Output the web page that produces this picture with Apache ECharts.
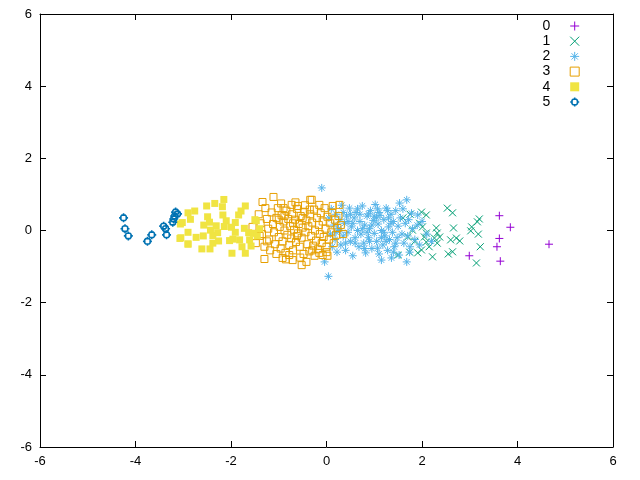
<!DOCTYPE html>
<html><head><meta charset="utf-8">
<script src="https://cdn.jsdelivr.net/npm/echarts@6/dist/echarts.min.js"></script>
<style>html,body{margin:0;padding:0;background:#fff}#c{width:640px;height:480px}</style>
</head><body><div id="c"></div>
<script>
var seriesNames = ['0','1','2','3','4','5'];
var xTicks = [-6,-4,-2,0,2,4,6];
var yTicks = [-6,-4,-2,0,2,4,6];

var s0 = [[3.62,0.41],[3.85,0.09],[3.62,-0.22],[3.57,-0.45],[2.99,-0.70],[3.64,-0.85],[4.66,-0.38]];

var s1 = [[1.99,0.51],[2.09,0.43],[2.53,0.62],[2.64,0.49],[3.20,0.32],[3.16,0.24],[3.04,0.10],[3.02,-0.01],
[3.18,-0.10],[3.22,-0.45],[3.14,-0.90],[2.66,0.07],[2.60,-0.26],[2.64,-0.59],[2.55,-0.65],[2.72,-0.21],
[2.79,-0.29],[2.22,-0.73],[2.32,-0.07],[2.26,-0.21],[2.37,-0.18],[2.09,-0.32],[2.09,-0.07],[2.01,0.10],
[1.91,-0.62],[1.99,-0.54],[1.74,-0.60],[1.80,0.01],[1.70,-0.18],[1.49,-0.68],[2.30,0.07],[2.32,-0.35],
[2.05,-0.18],[1.85,-0.30],[1.95,0.20],[2.15,-0.45],[1.60,0.35],[1.75,0.45]];

var s2 = [[-0.10,1.18],[-0.04,-0.87],[0.04,-1.27],[1.68,0.85],[1.53,0.76],[1.78,0.48],[1.91,0.43],[1.68,-0.87],
[1.74,-0.60],[1.36,-0.76],[1.15,-0.82],[1.07,-0.49],[0.88,0.46],[1.07,0.60],[1.28,0.55],
[0.05,0.35],[0.08,-0.10],[0.10,0.60],[0.12,-0.45],[0.15,0.15],[0.18,-0.25],[0.20,0.45],[0.22,-0.60],
[0.25,0.05],[0.28,0.30],[0.30,-0.40],[0.32,0.70],[0.35,-0.15],[0.38,0.20],[0.40,-0.55],[0.42,0.40],
[0.45,-0.05],[0.48,0.62],[0.50,-0.30],[0.52,0.10],[0.55,-0.70],[0.58,0.35],[0.60,-0.20],[0.62,0.50],
[0.65,0.00],[0.68,-0.45],[0.70,0.25],[0.72,-0.10],[0.75,0.68],[0.78,-0.35],[0.80,0.15],[0.82,-0.62],
[0.85,0.40],[0.88,-0.20],[0.90,0.05],[0.92,0.55],[0.95,-0.50],[0.98,0.28],[1.00,-0.08],[1.02,0.72],
[1.05,-0.30],[1.08,0.18],[1.10,-0.65],[1.12,0.42],[1.15,0.00],[1.18,-0.40],[1.20,0.30],[1.22,-0.15],
[1.25,0.62],[1.28,-0.55],[1.30,0.10],[1.32,-0.25],[1.35,0.45],[1.38,-0.05],[1.40,0.25],[1.42,-0.45],
[1.45,0.55],[1.48,-0.20],[1.50,0.12],[1.52,-0.68],[1.55,0.35],[1.58,-0.10],[1.60,0.60],[1.62,-0.35],
[1.65,0.20],[1.70,-0.15],[1.72,0.30],[1.75,-0.45],[1.80,0.05],[1.85,-0.25],[1.90,0.15],[1.95,-0.40],
[2.00,0.25],[2.10,-0.10],[2.20,-0.30],
[0.30,0.00],[0.45,0.25],[0.60,-0.35],[0.75,0.05],[0.90,-0.30],[1.05,0.35],[1.20,-0.05],[1.35,0.20],
[0.50,0.45],[0.65,0.60],[0.80,-0.50],[0.95,0.15],[1.10,0.50],[1.25,-0.30],[1.40,-0.60],[0.20,-0.05],
[0.40,-0.35],[0.70,0.45],[1.00,0.40],[1.15,-0.20],[1.30,0.35],[1.45,-0.35],[0.85,-0.05],[0.55,0.20],[0.35,0.50]];

var s3 = [[-1.11,0.93],[-0.34,0.85],[-1.30,-0.79],[-0.52,-0.96],[-0.71,-0.82],[-0.92,-0.76],[-1.34,0.79],
[-0.73,0.71],[-0.15,0.71],[0.13,0.68],[0.27,0.71],[0.23,0.07],[0.00,-0.60],[0.02,-0.70],[-0.31,0.85],
[-0.42,-0.87],[-0.08,-0.68],
[-1.55,0.10],[-1.48,-0.35],[-1.42,0.45],[-1.38,0.20],[-1.35,-0.10],[-1.30,-0.45],[-1.28,0.62],[-1.25,0.32],
[-1.22,0.05],[-1.20,-0.25],[-1.18,-0.55],[-1.15,0.50],[-1.12,0.18],[-1.10,-0.05],[-1.08,-0.38],[-1.05,0.35],
[-1.02,0.62],[-1.00,-0.18],[-0.98,0.10],[-0.96,-0.50],[-0.94,0.42],[-0.92,-0.30],[-0.90,0.25],[-0.88,0.00],
[-0.86,-0.62],[-0.84,0.55],[-0.82,-0.12],[-0.80,0.32],[-0.78,-0.40],[-0.76,0.12],[-0.74,-0.22],[-0.72,0.45],
[-0.70,-0.55],[-0.68,0.02],[-0.66,0.30],[-0.64,-0.32],[-0.62,0.60],[-0.60,-0.08],[-0.58,0.18],[-0.56,-0.45],
[-0.54,0.40],[-0.52,-0.20],[-0.50,0.08],[-0.48,-0.65],[-0.46,0.52],[-0.44,-0.05],[-0.42,0.28],[-0.40,-0.38],
[-0.38,0.12],[-0.36,-0.58],[-0.34,0.45],[-0.32,-0.15],[-0.30,0.22],[-0.28,-0.42],[-0.26,0.58],[-0.24,0.00],
[-0.22,-0.28],[-0.20,0.35],[-0.18,-0.52],[-0.16,0.15],[-0.14,-0.10],[-0.12,0.48],[-0.10,-0.35],[-0.08,0.25],
[-0.06,-0.18],[-0.04,0.62],[-0.02,0.05],[0.00,-0.45],[0.02,0.38],[0.05,-0.25],[0.08,0.20],[0.10,-0.05],
[0.12,0.50],[0.15,-0.35],[0.18,0.30],[0.20,-0.12],[0.25,0.40],[0.30,0.15],[0.35,-0.10],
[-1.05,-0.65],[-0.95,0.75],[-0.85,-0.80],[-0.65,0.78],[-0.55,-0.75],[-0.45,0.70],[-0.25,-0.70],[-0.60,0.68],
[-0.90,0.62],[-1.25,-0.30],[-1.40,-0.15],[-0.78,-0.68],[-0.35,0.58],[-0.15,-0.62],[-0.70,0.20],[-0.50,0.35],
[-0.30,-0.55],[-0.88,0.40],[-1.00,0.30],[-0.62,-0.15]];

var s4 = [[-3.06,0.18],[-2.90,0.49],[-2.76,0.54],[-2.85,0.31],[-3.02,0.22],[-2.90,-0.05],[-3.07,-0.22],
[-2.90,-0.37],[-2.73,-0.19],[-2.61,-0.51],[-2.58,-0.15],[-2.51,0.68],[-2.34,0.75],[-2.15,0.86],[-2.18,0.66],
[-2.49,0.38],[-2.45,0.23],[-2.57,0.15],[-2.31,0.13],[-2.43,0.01],[-2.38,-0.14],[-2.26,-0.29],[-2.44,-0.51],
[-2.17,0.43],[-2.10,0.27],[-1.91,0.22],[-1.79,0.54],[-1.70,0.68],[-1.84,0.43],[-1.99,0.09],[-1.91,-0.05],
[-1.96,-0.24],[-2.03,-0.28],[-1.82,-0.26],[-1.72,0.06],[-1.63,-0.06],[-1.77,-0.45],[-1.98,-0.63],[-1.70,-0.63],
[-1.58,-0.43],[-1.47,0.27],[-1.53,-0.08],[-1.61,-0.26],[-2.28,-0.06],[-2.14,0.11],[-2.38,-0.35],
[-1.50,0.30],[-1.45,-0.15],[-1.40,0.05],[-3.05,-0.20],[-2.90,-0.38]];

var s5 = [[-4.25,0.35],[-4.22,0.05],[-4.15,-0.15],[-3.75,-0.30],[-3.66,-0.12],[-3.41,0.12],[-3.37,0.05],
[-3.35,-0.12],[-3.22,0.23],[-3.20,0.32],[-3.16,0.51],[-3.12,0.46],[-3.18,0.40]];

var colors = ['#9400d3','#009e73','#56b4e9','#e69f00','#f0e442','#0072b2'];
var plusP = 'path://M0,5L10,5M5,0L5,10';
var crossP = 'path://M0,0L10,10M10,0L0,10';
var starP = 'path://M0,5L10,5M5,0L5,10M1.5,1.5L8.5,8.5M8.5,1.5L1.5,8.5';
var circP = 'path://M3.2,2L6.8,2L8,3.2L8,6.8L6.8,8L3.2,8L2,6.8L2,3.2Z M5,0L5,2 M5,8L5,10 M0,5L2,5 M8,5L10,5';
var symbols = [plusP, crossP, starP, 'rect', 'rect', circP];
var sizes = [8, 7, 8, 7, 7, 9];
var filled = [false,false,false,false,true,false];
var datas = [s0,s1,s2,s3,s4,s5];

function styleFor(i){
  return filled[i] ? {color: colors[i], borderWidth: 0, opacity: 1}
    : {color: 'rgba(0,0,0,0)', borderColor: colors[i], borderWidth: (i===5?1.6:1), opacity: 1};
}

var series = datas.map(function(d,i){
  return {type:'scatter', name: seriesNames[i], data: d, symbol: symbols[i], symbolSize: sizes[i],
    itemStyle: styleFor(i), silent: true, z: 2+i, emphasis:{disabled:true}};
});

var font = 'Liberation Sans, Arial, sans-serif';
function axisCommon(show){
  return {axisLine:{show:true, onZero:false, lineStyle:{color:'#000', width:1}},
    axisTick:{show:true, inside:true, length:6, lineStyle:{color:'#000'}},
    axisLabel:{show:show, color:'#000', fontSize:13, fontFamily:font, margin:8},
    splitLine:{show:false}};
}
var xb = Object.assign({type:'value', position:'bottom', min:-6, max:6, interval:2}, axisCommon(true));
var xt = Object.assign({type:'value', position:'top', min:-6, max:6, interval:2}, axisCommon(false));
var yl = Object.assign({type:'value', position:'left', min:-6, max:6, interval:2}, axisCommon(true));
var yr = Object.assign({type:'value', position:'right', min:-6, max:6, interval:2}, axisCommon(false));

var chart = echarts.init(document.getElementById('c'), null, {renderer:'canvas'});
chart.setOption({
  animation:false,
  backgroundColor:'#fff',
  grid:{left:40, right:27, top:14, bottom:33, containLabel:false},
  xAxis:[xb, xt],
  yAxis:[yl, yr],
  legend:{orient:'vertical', right:60, top:19, align:'right', itemGap:1.2, itemWidth:9, itemHeight:9,
    padding:0,
    textStyle:{fontSize:14, lineHeight:14, fontFamily:font, color:'#000', padding:[0,15,0,0]},
    selectedMode:false,
    data: seriesNames.map(function(n,i){
      return {name:n, icon: symbols[i], itemStyle: styleFor(i)};
    })},
  series: series
});
</script></body></html>
